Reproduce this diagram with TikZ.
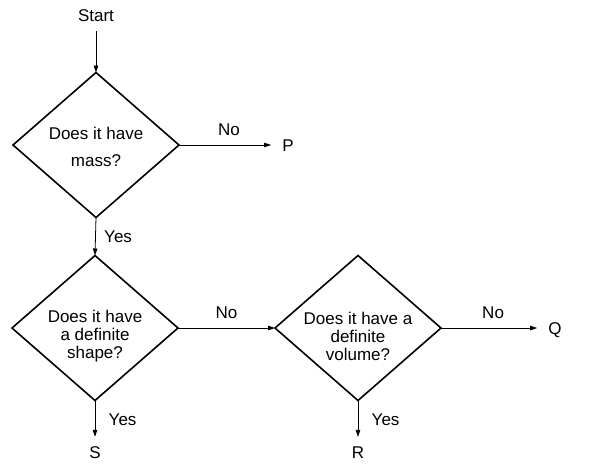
\documentclass[tikz,border=0pt]{standalone}
\usepackage{fontspec}
\setmainfont{Liberation Sans}
\usetikzlibrary{shapes.geometric,arrows.meta}

\begin{document}
\begin{tikzpicture}[x=1pt,y=-1pt,
		font=\fontsize{17}{18}\selectfont,
		decision/.style={draw,diamond,line width=1.6pt,inner sep=0pt,outer sep=0pt,
			minimum width=166pt,minimum height=145pt},
		question/.style={align=center,inner sep=0pt},
		outcome/.style={inner sep=3pt},
		flow/.style={line width=0.8pt,-{Triangle[length=7pt,width=4.5pt]}}]
		\useasboundingbox (0,0) rectangle (592,475);

		\node[decision] (mass)   at ( 96,145) {};
		\node[decision] (shape)  at ( 95,328) {};
		\node[decision] (volume) at (358,328) {};

		\node[question] (massq)   at ( 96,147) {Does it have\\[9pt]mass?};
		\node[question] (shapeq)  at ( 95,336) {Does it have\\a definite\\shape?};
		\node[question] (volumeq) at (358,336) {Does it have a\\definite\\volume?};

		\node[outcome] (start) at ( 96, 16) {Start};
		\node[outcome] (P)     at (288,146) {P};
		\node[outcome] (Q)     at (555,330) {Q};
		\node[outcome] (S)     at ( 95,453) {S};
		\node[outcome] (R)     at (358,453) {R};

		\draw[flow,shorten <=6pt] (start) -- (mass.north);
		\draw[flow,shorten >=8pt] (mass.east) -- (P.west |- mass.east) node[midway,above=6pt] (no1) {No};
		\draw[flow] (mass.south) -- (shape.north) node[midway,right=5pt] (yes1) {Yes};
		\draw[flow] (shape.east) -- (volume.west) node[midway,above=6pt] (no2) {No};
		\draw[flow,shorten >=8pt] (volume.east) -- (Q.west |- volume.east) node[midway,above=6pt] (no3) {No};
		\draw[flow,shorten >=7pt] (shape.south) -- (S.north) node[pos=0.45,right=10pt] (yes2) {Yes};
		\draw[flow,shorten >=7pt] (volume.south) -- (R.north) node[pos=0.45,right=10pt] (yes3) {Yes};

	\end{tikzpicture}
\end{document}
